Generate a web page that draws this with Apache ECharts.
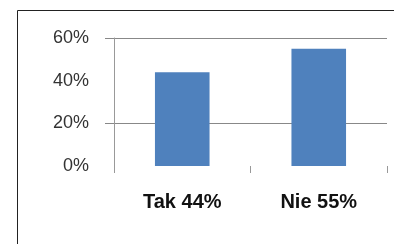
<!DOCTYPE html>
<html>
<head>
<meta charset="utf-8">
<script src="https://cdn.jsdelivr.net/npm/echarts@6/dist/echarts.min.js"></script>
<style>
  html, body { margin: 0; padding: 0; background: #fff; }
  #chart { width: 394px; height: 244px; }
</style>
</head>
<body>
<div id="chart"></div>
<script>
// dane wykresu
var categories = ['Tak 44%', 'Nie 55%'];
var values = [44, 55];
var yLabels = [0, 20, 40, 60];
var gridValues = [20, 60];

var chart = echarts.init(document.getElementById('chart'));

var option = {
    animation: false,
    graphic: [{
        type: 'rect',
        shape: { x: 17.5, y: 10.5, width: 420, height: 300 },
        style: { fill: 'none', stroke: '#222', lineWidth: 1 },
        silent: true
    }],
    grid: { left: 114, right: 7, top: 38, bottom: 78 },
    xAxis: {
        type: 'category',
        data: categories,
        axisLine: { show: false },
        axisTick: { show: true, length: 7, lineStyle: { color: '#999' } },
        axisLabel: {
            margin: 26,
            color: '#111',
            fontFamily: 'Liberation Sans',
            fontWeight: 'bold',
            fontSize: 20
        }
    },
    yAxis: {
        type: 'value',
        min: 0,
        max: 60,
        interval: 20,
        axisLine: { show: true, lineStyle: { color: '#999' } },
        axisTick: { show: true, length: 9, customValues: gridValues, lineStyle: { color: '#888' } },
        splitLine: { show: true, lineStyle: { color: '#888' } },
        axisLabel: {
            customValues: yLabels,
            margin: 25,
            color: '#333',
            fontFamily: 'Liberation Sans',
            fontSize: 18,
            formatter: '{value}%'
        }
    },
    series: [{
        type: 'bar',
        data: values,
        barWidth: '40%',
        itemStyle: { color: '#4f81bd' }
    }]
};

chart.setOption(option);
</script>
</body>
</html>
